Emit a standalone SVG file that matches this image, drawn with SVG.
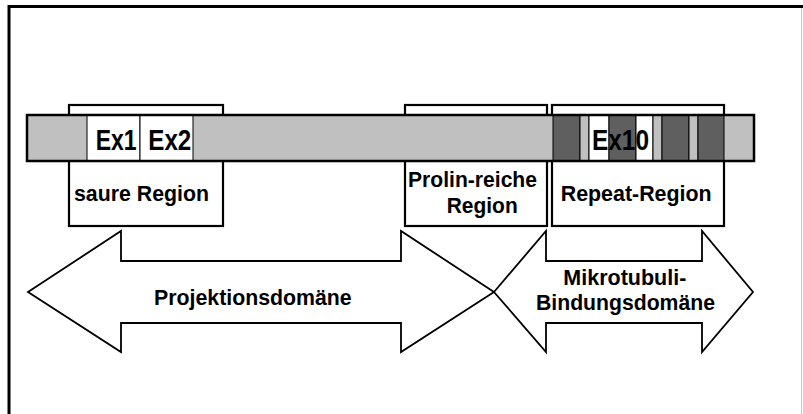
<svg xmlns="http://www.w3.org/2000/svg" width="803" height="414" viewBox="0 0 803 414">
  <style>
    .lbl { font-family: "Liberation Sans", Arial, sans-serif; font-weight: bold; fill: #000; font-size: 22.5px; }
    .ex { font-size: 29px; }
    .box { fill: #fff; stroke: #000; stroke-width: 2.2; }
    .seg { stroke: #000; stroke-width: 1; }
    .light { fill: #c0c0c0; }
    .dark { fill: #5f5f5f; }
    .white { fill: #fff; }
    .arrow { fill: #fff; stroke: #000; stroke-width: 1.8; stroke-linejoin: miter; }
  </style>

  <rect x="0" y="0" width="803" height="414" fill="#fff"/>

  <!-- outer frame -->
  <g id="frame">
    <line x1="9" y1="6.5" x2="803" y2="6.5" stroke="#000" stroke-width="3"/>
    <line x1="9" y1="5" x2="9" y2="414" stroke="#000" stroke-width="3"/>
    <line x1="801.5" y1="8" x2="801.5" y2="414" stroke="#c8c8c8" stroke-width="1"/>
  </g>

  <!-- region boxes (drawn behind the protein bar) -->
  <g id="saure-region">
    <rect class="box" x="69" y="105" width="154" height="121"/>
    <text class="lbl" x="74" y="201" textLength="135" lengthAdjust="spacingAndGlyphs">saure Region</text>
  </g>
  <g id="prolin-region">
    <rect class="box" x="405" y="105" width="142" height="121"/>
    <text class="lbl" x="408" y="187" textLength="129" lengthAdjust="spacingAndGlyphs">Prolin-reiche</text>
    <text class="lbl" x="446.7" y="213" textLength="71" lengthAdjust="spacingAndGlyphs">Region</text>
  </g>
  <g id="repeat-region">
    <rect class="box" x="552" y="105" width="172" height="121"/>
    <text class="lbl" x="560.7" y="201" textLength="151" lengthAdjust="spacingAndGlyphs">Repeat-Region</text>
  </g>

  <!-- protein bar with exon segments -->
  <g id="protein-bar">
    <rect class="light" x="27" y="115" width="727" height="46"/>
    <rect class="white seg" x="87" y="115" width="53" height="46"/>
    <rect class="white seg" x="140" y="115" width="53" height="46"/>
    <rect class="dark seg" x="553" y="115" width="27" height="46"/>
    <rect class="light seg" x="580" y="115" width="9" height="46"/>
    <rect class="white seg" x="589" y="115" width="20" height="46"/>
    <rect class="dark seg" x="609" y="115" width="27" height="46"/>
    <rect class="white seg" x="636" y="115" width="17" height="46"/>
    <rect class="light seg" x="653" y="115" width="9" height="46"/>
    <rect class="dark seg" x="662" y="115" width="27" height="46"/>
    <rect class="light seg" x="689" y="115" width="9" height="46"/>
    <rect class="dark seg" x="698" y="115" width="26" height="46"/>
    <rect x="27" y="115" width="727" height="46" fill="none" stroke="#000" stroke-width="2.5"/>
    <text class="lbl ex" x="95.7" y="150" textLength="41" lengthAdjust="spacingAndGlyphs">Ex1</text>
    <text class="lbl ex" x="148.3" y="150" textLength="43" lengthAdjust="spacingAndGlyphs">Ex2</text>
    <text class="lbl ex" x="592" y="150" textLength="57" lengthAdjust="spacingAndGlyphs">Ex10</text>
  </g>

  <!-- domain arrows -->
  <g id="connectors">
    <g id="projektionsdomaene">
      <polygon class="arrow" points="28,292 121,231 121,261 401,261 401,231 494,292 401,352 401,323 121,323 121,352"/>
      <text class="lbl" x="154" y="305" textLength="197.7" lengthAdjust="spacingAndGlyphs">Projektionsdomäne</text>
    </g>
    <g id="bindungsdomaene">
      <polygon class="arrow" points="494,292 546,231 546,261 702,261 702,231 753,292 702,352 702,323 546,323 546,352"/>
      <text class="lbl" x="563.3" y="285" textLength="123" lengthAdjust="spacingAndGlyphs">Mikrotubuli-</text>
      <text class="lbl" x="536" y="310" textLength="179" lengthAdjust="spacingAndGlyphs">Bindungsdomäne</text>
    </g>
  </g>
</svg>
